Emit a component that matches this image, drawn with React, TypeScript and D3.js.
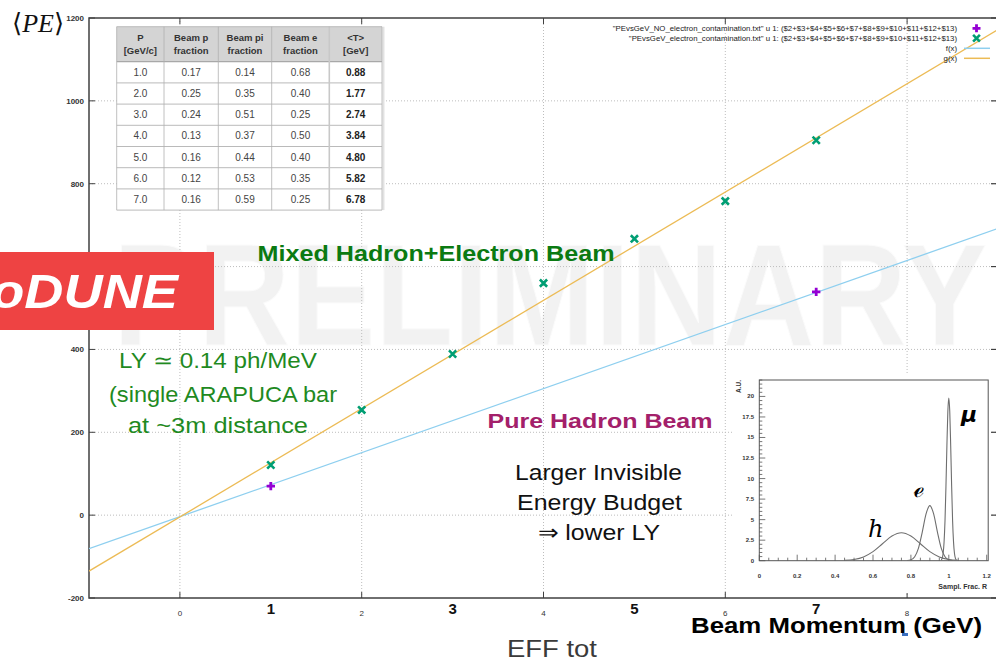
import React from "react";
import * as d3 from "d3";

const W = 996;
const H = 663;

// ---- main plot data ----
const momenta = [1, 2, 3, 4, 5, 6, 7];
const peMixed = [121, 254, 389, 560, 667, 758, 905];
const pureX = [1, 7];
const pePure = [70, 539];
const fitFx = [-1, 9];
const fitFy = [-81, 692];
const fitGx = [-1, 9];
const fitGy = [-135, 1172];
const yTicks = [-200, 0, 200, 400, 600, 800, 1000, 1200];
const xTicks = [0, 2, 4, 6, 8];
const momentumLabelPos = [1, 3, 5, 7];
const momentumLabels = ["1", "3", "5", "7"];

// ---- table ----
const tableHeader = [
  ["P", "[GeV/c]"],
  ["Beam p", "fraction"],
  ["Beam pi", "fraction"],
  ["Beam e", "fraction"],
  ["<T>", "[GeV]"],
];
const colP = ["1.0", "2.0", "3.0", "4.0", "5.0", "6.0", "7.0"];
const colFracP = ["0.17", "0.25", "0.24", "0.13", "0.16", "0.12", "0.16"];
const colFracPi = ["0.14", "0.35", "0.51", "0.37", "0.44", "0.53", "0.59"];
const colFracE = ["0.68", "0.40", "0.25", "0.50", "0.40", "0.35", "0.25"];
const colMeanT = ["0.88", "1.77", "2.74", "3.84", "4.80", "5.82", "6.78"];

// ---- legend ----
const legendLabels = [
  '"PEvsGeV_NO_electron_contamination.txt" u 1: ($2+$3+$4+$5+$6+$7+$8+$9+$10+$11+$12+$13)',
  '"PEvsGeV_electron_contamination.txt" u 1: ($2+$3+$4+$5+$6+$7+$8+$9+$10+$11+$12+$13)',
  "f(x)",
  "g(x)",
];

// ---- annotations ----
const lyLines = ["LY ≃ 0.14 ph/MeV", "(single ARAPUCA bar", "at ~3m distance"];
const budgetLines = ["Larger Invisible", "Energy Budget", "⇒ lower LY"];

// ---- inset (sampling fraction distributions) ----
const hX = [0.45, 0.5, 0.55, 0.6, 0.65, 0.7, 0.75, 0.8, 0.85, 0.9, 0.95, 1.0, 1.05];
const hY = [0.04, 0.15, 0.46, 1.1, 2.06, 3.0, 3.4, 3.0, 2.06, 1.1, 0.46, 0.15, 0.04];
const eX = [0.78, 0.8, 0.82, 0.84, 0.86, 0.88, 0.9, 0.92, 0.94, 0.96, 0.98, 1.0, 1.02];
const eY = [0.02, 0.11, 0.49, 1.54, 3.49, 5.69, 6.7, 5.69, 3.49, 1.54, 0.49, 0.11, 0.02];
const muX = [0.96, 0.965, 0.97, 0.975, 0.98, 0.985, 0.99, 0.995, 1.0, 1.005, 1.01, 1.015, 1.02, 1.025, 1.03, 1.035, 1.04];
const muY = [0.08, 0.28, 0.87, 2.26, 4.9, 9.07, 14.0, 18.2, 19.8, 18.2, 14.0, 9.07, 4.9, 2.26, 0.87, 0.28, 0.08];
const insetXTicks = [0, 0.2, 0.4, 0.6, 0.8, 1, 1.2];
const insetYTicks = [0, 2.5, 5, 7.5, 10, 12.5, 15, 17.5, 20];

const SANS = "'Liberation Sans', Arial, sans-serif";

export default function App() {
  const x = d3.scaleLinear().domain([-1, 9]).range([89, 998]);
  const y = d3.scaleLinear().domain([-200, 1200]).range([598, 18]);
  const L = 89, R = 997, T = 18, B = 598;

  const line = d3.line<[number, number]>().x((d) => x(d[0])).y((d) => y(d[1]));
  const fPts: [number, number][] = fitFx.map((v, i) => [v, fitFy[i]]);
  const gPts: [number, number][] = fitGx.map((v, i) => [v, fitGy[i]]);

  // inset scales
  const ix = d3.scaleLinear().domain([0, 1.2]).range([759.3, 986.7]);
  const iy = d3.scaleLinear().domain([0, 22]).range([560.7, 380]);
  const iline = d3
    .line<[number, number]>()
    .x((d) => ix(d[0]))
    .y((d) => iy(d[1]))
    .curve(d3.curveMonotoneX);
  const hPts: [number, number][] = hX.map((v, i) => [v, hY[i]]);
  const ePts: [number, number][] = eX.map((v, i) => [v, eY[i]]);
  const muPts: [number, number][] = muX.map((v, i) => [v, muY[i]]);
  const insetMinorX = d3.range(0, 1.2001, 0.05);
  const insetMinorY = d3.range(0, 22.01, 0.5);

  // table geometry
  const colEdges = [116.7, 164, 218.3, 271.7, 329.3, 382];
  const tTop = 26.7, tHead = 61.7, rowH = 21.2;
  const cols = [colP, colFracP, colFracPi, colFracE, colMeanT];

  const plus = (cx: number, cy: number, s: number) => `M${cx - s},${cy}L${cx + s},${cy}M${cx},${cy - s}L${cx},${cy + s}`;
  const cross = (cx: number, cy: number, s: number) =>
    `M${cx - s},${cy - s}L${cx + s},${cy + s}M${cx - s},${cy + s}L${cx + s},${cy - s}`;

  const purple = "#9400d3";
  const green = "#009e73";
  const blue = "#8ecfef";
  const orange = "#ecbb55";

  const lyGeom = [
    { cx: 218, y: 368, w: 198 },
    { cx: 223, y: 402, w: 228 },
    { cx: 218, y: 433, w: 180 },
  ];
  const budgetGeom = [
    { cx: 598.5, y: 480, w: 167 },
    { cx: 599.5, y: 510, w: 165 },
    { cx: 599, y: 540, w: 122 },
  ];

  return (
    <div style={{ position: "absolute", left: 0, top: 0, width: W, height: H, overflow: "hidden", background: "#fff" }}>
      <svg width={W} height={H} viewBox={`0 0 ${W} ${H}`} style={{ display: "block" }}>
        <defs>
          <clipPath id="plotclip">
            <rect x={L} y={T} width={R - L} height={B - T} />
          </clipPath>
        </defs>
        <rect x={0} y={0} width={W} height={H} fill="#fff" />

        {/* watermark */}
        <text
          x={113}
          y={345}
          fontFamily={SANS}
          fontWeight={700}
          fontSize={144}
          fill="#f2f2f2"
          stroke="#fbfbfb"
          strokeWidth={1}
          textLength={874}
          lengthAdjust="spacingAndGlyphs"
        >
          PRELIMINARY
        </text>

        {/* grid */}
        {yTicks
          .filter((t) => t > -200 && t < 1200)
          .map((t) => (
            <line key={"gy" + t} x1={L} x2={R} y1={y(t)} y2={y(t)} stroke="#bdbdbd" strokeWidth={1} strokeDasharray="1,2" />
          ))}
        {xTicks.map((t) => (
          <line key={"gx" + t} x1={x(t)} x2={x(t)} y1={T} y2={B} stroke="#bdbdbd" strokeWidth={1} strokeDasharray="1,2" />
        ))}

        {/* frame */}
        <rect x={L} y={T} width={R - L} height={B - T} fill="none" stroke="#404040" strokeWidth={1.5} />
        {yTicks.map((t) => (
          <g key={"ty" + t}>
            <line x1={L} x2={L + 6} y1={y(t)} y2={y(t)} stroke="#404040" strokeWidth={1} />
            <line x1={R - 6} x2={R} y1={y(t)} y2={y(t)} stroke="#404040" strokeWidth={1.2} />
            <text x={84} y={y(t) + 3} textAnchor="end" fontFamily={SANS} fontWeight={700} fontSize={8} fill="#333">
              {t}
            </text>
          </g>
        ))}
        {xTicks.map((t) => (
          <g key={"tx" + t}>
            <line x1={x(t)} x2={x(t)} y1={B} y2={B - 6} stroke="#404040" strokeWidth={1} />
            <line x1={x(t)} x2={x(t)} y1={T} y2={T + 6} stroke="#404040" strokeWidth={1} />
            <text x={x(t)} y={616} textAnchor="middle" fontFamily={SANS} fontSize={8} fill="#333">
              {t}
            </text>
          </g>
        ))}

        {/* fit lines */}
        <g clipPath="url(#plotclip)">
          <path d={line(fPts) || ""} fill="none" stroke={blue} strokeWidth={1.3} />
          <path d={line(gPts) || ""} fill="none" stroke={orange} strokeWidth={1.3} />
        </g>

        {/* points */}
        {momenta.map((m, i) => (
          <path key={"g" + m} d={cross(x(m), y(peMixed[i]), 3.6)} stroke={green} strokeWidth={2.6} fill="none" />
        ))}
        {pureX.map((m, i) => (
          <path key={"p" + m} d={plus(x(m), y(pePure[i]), 4.2)} stroke={purple} strokeWidth={2.8} fill="none" />
        ))}

        {/* table */}
        <g fontFamily={SANS}>
          <rect x={colEdges[0]} y={tTop} width={colEdges[5] - colEdges[0]} height={tHead - tTop + rowH * 7} fill="#fff" />
          <rect x={colEdges[0]} y={tTop} width={colEdges[5] - colEdges[0]} height={tHead - tTop} fill="#d4d4d4" />
          <line x1={colEdges[5] + 1.5} x2={colEdges[5] + 1.5} y1={tTop} y2={tHead + rowH * 7} stroke="#e2e2e2" strokeWidth={2} />
          {tableHeader.map((h, c) => {
            const cx = (colEdges[c] + colEdges[c + 1]) / 2;
            return (
              <g key={"th" + c}>
                <text x={cx} y={tTop + 14.5} textAnchor="middle" fontSize={9.5} fontWeight={700} fill="#333">
                  {h[0]}
                </text>
                <text x={cx} y={tTop + 27} textAnchor="middle" fontSize={9.5} fontWeight={700} fill="#333">
                  {h[1]}
                </text>
              </g>
            );
          })}
          {cols.map((col, c) =>
            col.map((v, r) => (
              <text
                key={"td" + c + "-" + r}
                x={(colEdges[c] + colEdges[c + 1]) / 2}
                y={tHead + rowH * r + rowH / 2 + 3.5}
                textAnchor="middle"
                fontSize={10}
                fontWeight={c === 4 ? 700 : 400}
                fill={c === 4 ? "#222" : "#444"}
              >
                {v}
              </text>
            ))
          )}
          {d3.range(8).map((r) => (
            <line
              key={"hl" + r}
              x1={colEdges[0]}
              x2={colEdges[5]}
              y1={tHead + rowH * r}
              y2={tHead + rowH * r}
              stroke="#a8a8a8"
              strokeWidth={r === 0 ? 1.2 : 0.8}
            />
          ))}
          {colEdges.map((cx, c) => (
            <line
              key={"vl" + c}
              x1={cx}
              x2={cx}
              y1={tTop}
              y2={tHead + rowH * 7}
              stroke={c === 4 ? "#c8c8c8" : "#b0b0b0"}
              strokeWidth={c === 4 ? 1.6 : 0.8}
            />
          ))}
          <line x1={colEdges[0]} x2={colEdges[5]} y1={tTop} y2={tTop} stroke="#b0b0b0" strokeWidth={0.8} />
        </g>

        {/* annotations */}
        <text x={436} y={261} textAnchor="middle" fontFamily={SANS} fontWeight={700} fontSize={22} fill="#0b7a12" textLength={357} lengthAdjust="spacingAndGlyphs">
          Mixed Hadron+Electron Beam
        </text>
        {lyLines.map((s, i) => (
          <text
            key={"ly" + i}
            x={lyGeom[i].cx}
            y={lyGeom[i].y}
            textAnchor="middle"
            fontFamily={SANS}
            fontSize={22}
            fill="#1f8a1f"
            textLength={lyGeom[i].w}
            lengthAdjust="spacingAndGlyphs"
          >
            {s}
          </text>
        ))}
        <text x={600} y={428} textAnchor="middle" fontFamily={SANS} fontWeight={700} fontSize={21} fill="#a3206a" textLength={225} lengthAdjust="spacingAndGlyphs">
          Pure Hadron Beam
        </text>
        {budgetLines.map((s, i) => (
          <text
            key={"bd" + i}
            x={budgetGeom[i].cx}
            y={budgetGeom[i].y}
            textAnchor="middle"
            fontFamily={SANS}
            fontSize={22}
            fill="#111"
            textLength={budgetGeom[i].w}
            lengthAdjust="spacingAndGlyphs"
          >
            {s}
          </text>
        ))}

        {/* momentum labels */}
        {momentumLabelPos.map((m, i) => (
          <text key={"ml" + m} x={x(m)} y={614} textAnchor="middle" fontFamily={SANS} fontWeight={700} fontSize={15} fill="#111">
            {momentumLabels[i]}
          </text>
        ))}
        <text x={691} y={633} fontFamily={SANS} fontWeight={700} fontSize={22} fill="#000" textLength={291} lengthAdjust="spacingAndGlyphs">
          Beam Momentum (GeV)
        </text>
        <rect x={902} y={633} width={6} height={3} fill="#3a6fc0" />
        <text x={552} y={657} textAnchor="middle" fontFamily={SANS} fontSize={24} fill="#3a3a3a" textLength={90} lengthAdjust="spacingAndGlyphs">
          EFF tot
        </text>

        {/* <PE> */}
        <text x={12} y={32} fontFamily="'Liberation Serif', 'DejaVu Serif', serif" fontSize={26} fill="#111">
          ⟨<tspan fontStyle="italic">PE</tspan>⟩
        </text>

        {/* ProtoDUNE banner */}
        <rect x={-2} y={252} width={216} height={78} fill="#ee4343" />
        <text
          transform="translate(178,308) scale(1.13,1)"
          textAnchor="end"
          fontFamily={SANS}
          fontWeight={700}
          fontStyle="italic"
          fontSize={48}
          fill="#fff"
        >
          ProtoDUNE
        </text>

        {/* inset */}
        <g>
          <rect x={733} y={373} width={257} height={220} fill="#fff" />
          <rect x={ix(0)} y={iy(22)} width={ix(1.2) - ix(0) + 1.5} height={iy(0) - iy(22)} fill="none" stroke="#555" strokeWidth={1} />
          {insetMinorX.map((t, i) => (
            <line key={"imx" + i} x1={ix(t)} x2={ix(t)} y1={iy(0)} y2={iy(0) - (i % 4 === 0 ? 6 : 3)} stroke="#555" strokeWidth={0.8} />
          ))}
          {insetMinorY.map((t, i) => (
            <line key={"imy" + i} x1={ix(0)} x2={ix(0) + (i % 5 === 0 ? 6 : 3)} y1={iy(t)} y2={iy(t)} stroke="#555" strokeWidth={0.8} />
          ))}
          {insetXTicks.map((t) => (
            <text key={"ixl" + t} x={ix(t)} y={578} textAnchor="middle" fontFamily={SANS} fontWeight={700} fontSize={6} fill="#333">
              {t}
            </text>
          ))}
          {insetYTicks.map((t) => (
            <text key={"iyl" + t} x={754} y={iy(t) + 2} textAnchor="end" fontFamily={SANS} fontWeight={700} fontSize={6} fill="#333">
              {t}
            </text>
          ))}
          <text x={987} y={589} textAnchor="end" fontFamily={SANS} fontWeight={700} fontSize={7} fill="#333">
            Sampl. Frac. R
          </text>
          <text transform="translate(741,380) rotate(-90)" textAnchor="end" fontFamily={SANS} fontWeight={700} fontSize={6.5} fill="#333">
            A.U.
          </text>
          <path d={iline(hPts) || ""} fill="none" stroke="#6e6e6e" strokeWidth={1.1} />
          <path d={iline(ePts) || ""} fill="none" stroke="#6e6e6e" strokeWidth={1.1} />
          <path d={iline(muPts) || ""} fill="none" stroke="#6e6e6e" strokeWidth={1.1} />
          <text x={868} y={537} fontFamily="'DejaVu Serif', serif" fontStyle="italic" fontSize={24} fill="#000">
            h
          </text>
          <text x={913} y={497} fontFamily="'DejaVu Serif', serif" fontSize={24} fill="#000">
            ℯ
          </text>
          <text x={961} y={422} fontFamily="'DejaVu Sans', sans-serif" fontWeight={700} fontStyle="italic" fontSize={22} fill="#000">
            μ
          </text>
        </g>

        {/* legend */}
        <g fontFamily={SANS} fontSize={7.8} fill="#222" textAnchor="end">
          {legendLabels.map((lbl, i) => (
            <text key={"lg" + i} x={957} y={31 + i * 10}>
              {lbl}
            </text>
          ))}
        </g>
        <path d={plus(976.5, 28.3, 4)} stroke={purple} strokeWidth={2.8} fill="none" />
        <path d={cross(976.5, 38.3, 3.4)} stroke={green} strokeWidth={2.6} fill="none" />
        <line x1={964} x2={990} y1={48.3} y2={48.3} stroke={blue} strokeWidth={1.5} />
        <line x1={964} x2={990} y1={58.3} y2={58.3} stroke={orange} strokeWidth={1.5} />
      </svg>
    </div>
  );
}
